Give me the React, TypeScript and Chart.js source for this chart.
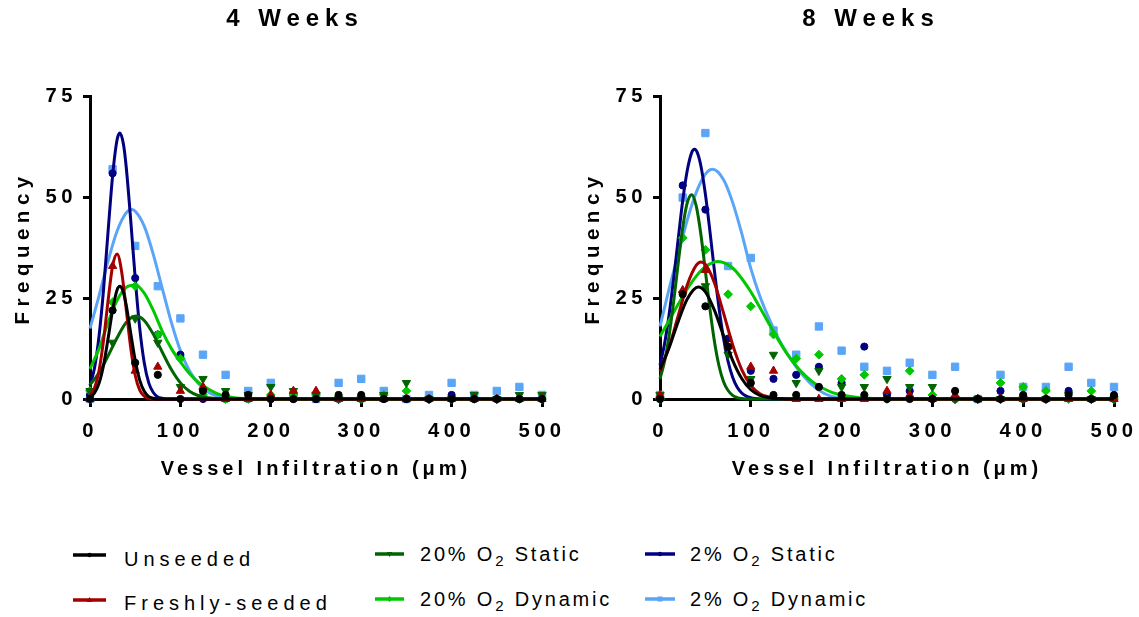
import React, { useEffect, useRef } from 'react';
import { Chart, registerables } from 'chart.js';

Chart.register(...registerables);

const FONT = "'Liberation Sans', Arial, Helvetica, sans-serif";

// ---------- axes ----------
const X_TICKS = [0, 100, 200, 300, 400, 500];
const Y_TICKS = [0, 25, 50, 75];
const BIN_X = [0, 25, 50, 75, 100, 125, 150, 175, 200, 225, 250, 275, 300, 325, 350, 375, 400, 425, 450, 475, 500];

// ---------- 4 weeks: observed frequencies ----------
const L_UNS = [0, 22, 9, 6, 0, 2, 1, 1, 0, 0, 0, 1, 1, 0, 0, 0, 0, 0, 0, 0, 0];
const L_FRESH = [0, 33, 7, 8, 2, 3, 0, 0, 1, 2, 2, 0, 0, 0, 0, 0, 0, 0, 0, 0, 0];
const L_S20 = [2, 14, 20, 14, 3, 5, 2, 1, 3, 2, 1, 0, 0, 1, 4, 0, 0, 1, 0, 1, 1];
const L_D20 = [2, 24, 28, 16, 10, 1, 0, 0, 1, 1, 1, 0, 0, 1, 2, 0, 0, 0, 0, 0, 0];
const L_S2 = [1, 56, 30, 16, 11, 0, 0, 0, 0, 0, 0, 0, 0, 0, 0, 0, 1, 0, 0, 0, 0];
const L_D2 = [0, 57, 38, 28, 20, 11, 6, 2, 4, 1, 0, 4, 5, 2, 0, 1, 4, 1, 2, 3, 1];

// ---------- 4 weeks: fitted curves ----------
const L_UNS_FX = [0, 5, 10, 15, 20, 25, 30, 33, 36, 40, 45, 50, 55, 60, 65, 70, 75, 500];
const L_UNS_FY = [0.5, 1.5, 3.9, 8.4, 15.0, 22.1, 27.1, 28, 27.1, 23.4, 16.4, 9.6, 4.7, 1.9, 0.6, 0.2, 0, 0];
const L_FRESH_FX = [0, 5, 10, 15, 20, 25, 30, 35, 40, 45, 50, 55, 60, 65, 70, 500];
const L_FRESH_FY = [0.9, 2.7, 7.0, 14.6, 24.4, 33.0, 36.0, 31.6, 22.4, 12.8, 5.9, 2.2, 0.7, 0.2, 0, 0];
const L_S20_FX = [0, 10, 20, 30, 40, 51, 60, 70, 80, 90, 100, 110, 120, 130, 140, 150, 500];
const L_S20_FY = [3.5, 6.5, 10.7, 15.2, 19.0, 20.6, 19.5, 16.1, 11.6, 7.3, 4.0, 1.9, 0.8, 0.3, 0.1, 0, 0];
const L_D20_FX = [0, 10, 20, 30, 40, 50, 60, 70, 80, 90, 100, 110, 120, 130, 140, 150, 160, 170, 180, 500];
const L_D20_FY = [7.5, 12.5, 19, 24.5, 27.7, 28.3, 26.3, 22, 16.8, 12.5, 9.2, 6.3, 4.1, 2.6, 1.4, 0.7, 0.3, 0.1, 0, 0];
const L_S2_FX = [0, 5, 10, 15, 20, 25, 30, 33, 37, 40, 45, 50, 55, 60, 65, 70, 75, 80, 85, 500];
const L_S2_FY = [3.4, 7.7, 15.6, 27.2, 41.6, 55.4, 64.4, 66, 63.2, 57.7, 44.5, 30.0, 17.6, 9.0, 4.0, 1.6, 0.5, 0.2, 0, 0];
const L_D2_FX = [0, 10, 20, 30, 40, 46, 50, 60, 70, 80, 90, 100, 110, 120, 130, 140, 150, 160, 170, 500];
const L_D2_FY = [17.5, 25.6, 34.3, 41.7, 46.2, 47, 46.6, 42.9, 35.9, 27.4, 19.0, 12.0, 7.0, 3.8, 1.8, 0.8, 0.3, 0.1, 0, 0];

// ---------- 8 weeks: observed frequencies ----------
const R_UNS = [0, 26, 23, 13, 4, 1, 1, 3, 1, 1, 0, 0, 0, 2, 0, 0, 1, 0, 1, 0, 1];
const R_FRESH = [1, 27, 32, 13, 8, 7, 0, 0, 0, 0, 2, 1, 0, 1, 0, 0, 0, 0, 0, 0, 0];
const R_S20 = [1, 26, 28, 11, 5, 11, 4, 7, 3, 3, 5, 3, 3, 0, 0, 0, 0, 0, 1, 0, 0];
const R_D20 = [0, 40, 37, 26, 23, 16, 10, 11, 5, 6, 0, 7, 1, 0, 0, 4, 3, 2, 0, 2, 0];
const R_S2 = [0, 53, 47, 15, 7, 5, 6, 8, 4, 13, 1, 2, 0, 0, 0, 2, 0, 0, 2, 0, 0];
const R_D2 = [1, 50, 66, 33, 35, 17, 11, 18, 12, 8, 7, 9, 6, 8, 0, 6, 3, 3, 8, 4, 3];

// ---------- 8 weeks: fitted curves ----------
const R_UNS_FX = [0, 10, 20, 30, 42, 50, 60, 70, 80, 90, 100, 110, 120, 130, 140, 500];
const R_UNS_FY = [7.3, 12.7, 19.2, 24.8, 27.8, 26.6, 22.0, 15.7, 9.6, 5.1, 2.3, 0.9, 0.3, 0.1, 0, 0];
const R_FRESH_FX = [0, 10, 20, 30, 40, 45, 50, 60, 70, 80, 90, 100, 110, 120, 130, 140, 500];
const R_FRESH_FY = [6.9, 12.9, 20.6, 28.3, 33.2, 34, 33.4, 28.8, 21.3, 13.5, 7.3, 3.4, 1.3, 0.5, 0.1, 0, 0];
const R_S20_FX = [0, 5, 10, 15, 20, 25, 30, 35, 40, 45, 50, 55, 60, 65, 70, 75, 80, 85, 90, 95, 500];
const R_S20_FY = [5.0, 9.3, 15.7, 24.1, 33.6, 42.5, 48.7, 50.7, 47.8, 40.9, 31.7, 22.3, 14.2, 8.2, 4.3, 2.1, 0.9, 0.35, 0.1, 0, 0];
const R_D20_FX = [0, 10, 20, 30, 40, 50, 64, 80, 90, 100, 110, 120, 130, 140, 150, 160, 170, 180, 190, 200, 210, 220, 230, 240, 250, 500];
const R_D20_FY = [15.5, 19.5, 23.5, 27.3, 30.5, 32.8, 34.1, 32.5, 29.9, 26.6, 22.7, 18.7, 14.8, 11.2, 8.2, 5.8, 3.9, 2.6, 1.6, 1.0, 0.6, 0.3, 0.2, 0.1, 0, 0];
const R_S2_FX = [0, 5, 10, 15, 20, 25, 30, 35, 38, 41, 45, 50, 55, 60, 65, 70, 75, 80, 85, 90, 95, 100, 105, 110, 500];
const R_S2_FY = [8.4, 13.7, 20.9, 29.8, 39.6, 49.2, 56.7, 61.2, 62, 61.2, 57.9, 50.8, 41.6, 31.7, 22.6, 15.0, 9.3, 5.4, 2.9, 1.5, 0.7, 0.3, 0.1, 0, 0];
const R_D2_FX = [0, 10, 20, 30, 40, 50, 58, 70, 80, 90, 100, 110, 120, 130, 140, 150, 160, 170, 180, 190, 200, 210, 500];
const R_D2_FY = [18, 27.3, 35.9, 44.4, 51.3, 55.8, 57, 54.4, 48.8, 41.1, 32.4, 25.5, 20, 15.2, 11.3, 8, 5.2, 3, 1.5, 0.6, 0.2, 0, 0];

// ---------- series appearance ----------
type Series = { label: string[]; color: string; shape: string; r: number; rot: number };
const SERIES: Series[] = [
  { label: ['Unseeded'], color: '#000000', shape: 'circle', r: 3.6, rot: 0 },
  { label: ['Freshly-seeded'], color: '#A40000', shape: 'triangle', r: 4.8, rot: 0 },
  { label: ['20% O', '2', ' Static'], color: '#006400', shape: 'triangle', r: 4.8, rot: 180 },
  { label: ['20% O', '2', ' Dynamic'], color: '#00C800', shape: 'rectRot', r: 4.4, rot: 0 },
  { label: ['2% O', '2', ' Static'], color: '#000080', shape: 'circle', r: 3.6, rot: 0 },
  { label: ['2% O', '2', ' Dynamic'], color: '#5AA5F7', shape: 'rect', r: 5.2, rot: 0 },
];

const LEFT_PANEL = {
  title: '4 Weeks',
  points: [L_UNS, L_FRESH, L_S20, L_D20, L_S2, L_D2],
  fitX: [L_UNS_FX, L_FRESH_FX, L_S20_FX, L_D20_FX, L_S2_FX, L_D2_FX],
  fitY: [L_UNS_FY, L_FRESH_FY, L_S20_FY, L_D20_FY, L_S2_FY, L_D2_FY],
};
const RIGHT_PANEL = {
  title: '8 Weeks',
  points: [R_UNS, R_FRESH, R_S20, R_D20, R_S2, R_D2],
  fitX: [R_UNS_FX, R_FRESH_FX, R_S20_FX, R_D20_FX, R_S2_FX, R_D2_FX],
  fitY: [R_UNS_FY, R_FRESH_FY, R_S20_FY, R_D20_FY, R_S2_FY, R_D2_FY],
};

// letter spacing per canvas font size (Prism-like tracked text)
const SPACING: Record<string, number> = { '24px': 6, '20px': 4, '20.5px': 5.5, '20.2px': 4.5 };

const spacingPlugin = {
  id: 'trackedText',
  beforeInit(chart: any) {
    const ctx: any = chart.ctx;
    if (ctx.__tracked) return;
    ctx.__tracked = true;
    const ft = ctx.fillText.bind(ctx);
    const mt = ctx.measureText.bind(ctx);
    const apply = () => {
      const m = /([\d.]+)px/.exec(ctx.font || '');
      const sp = m ? SPACING[m[1] + 'px'] : undefined;
      try { ctx.letterSpacing = (sp || 0) + 'px'; } catch (e) { /* ignore */ }
    };
    ctx.fillText = (t: string, x: number, y: number, w?: number) => {
      apply();
      if (w === undefined) ft(t, x, y); else ft(t, x, y, w);
    };
    ctx.measureText = (t: string) => { apply(); return mt(t); };
  },
};

const toXY = (xs: number[], ys: number[]) => xs.map((x, i) => ({ x, y: ys[i] }));

function buildConfig(panel: typeof LEFT_PANEL, rightSpace: number): any {
  const datasets: any[] = [];
  SERIES.forEach((s, i) => {
    datasets.push({
      label: s.label.join('') + ' data',
      data: toXY(BIN_X, panel.points[i]),
      showLine: false,
      pointStyle: s.shape,
      pointRadius: s.r,
      pointRotation: s.rot,
      pointBackgroundColor: s.color,
      pointBorderColor: s.color,
      pointBorderWidth: 1,
      clip: false,
    });
    datasets.push({
      label: s.label.join('') + ' fit',
      data: toXY(panel.fitX[i], panel.fitY[i]),
      showLine: true,
      borderColor: s.color,
      borderWidth: 3,
      pointRadius: 0,
      fill: false,
      cubicInterpolationMode: 'monotone',
      clip: false,
    });
  });
  const tickFont = { family: FONT, size: 20.2, weight: 'bold' as const };
  const gridOpts = (len: number) => ({
    display: true,
    drawOnChartArea: false,
    drawTicks: true,
    tickLength: len,
    tickWidth: 3,
    tickColor: '#000',
    color: '#000',
  });
  return {
    type: 'scatter',
    data: { datasets },
    plugins: [spacingPlugin],
    options: {
      animation: false,
      responsive: false,
      maintainAspectRatio: false,
      devicePixelRatio: 1,
      events: [],
      layout: { padding: { left: 0, top: 0, right: 0, bottom: 5 } },
      plugins: {
        legend: { display: false },
        tooltip: { enabled: false },
        title: {
          display: true,
          text: panel.title,
          color: '#000',
          font: { family: FONT, size: 24, weight: 'bold' },
          padding: { top: 5, bottom: 63 },
        },
      },
      scales: {
        x: {
          type: 'linear',
          min: 0,
          max: 500,
          afterBuildTicks: (s: any) => { s.ticks = X_TICKS.map((v) => ({ value: v })); },
          ticks: { color: '#000', font: tickFont, padding: 12, maxRotation: 0, autoSkip: false },
          grid: gridOpts(8),
          border: { display: true, color: '#000', width: 3 },
          title: {
            display: true,
            text: 'Vessel Infiltration (μm)',
            color: '#000',
            font: { family: FONT, size: 20, weight: 'bold' },
            padding: { top: 0, bottom: 4 },
          },
          afterFit: (s: any) => { s.height = 86; s.paddingLeft = 0; s.paddingRight = 0; },
        },
        y: {
          type: 'linear',
          position: 'left',
          min: 0,
          max: 75,
          afterBuildTicks: (s: any) => { s.ticks = Y_TICKS.map((v) => ({ value: v })); },
          ticks: { color: '#000', font: tickFont, padding: 6 },
          grid: gridOpts(7),
          border: { display: true, color: '#000', width: 3 },
          title: {
            display: true,
            text: 'Frequency',
            color: '#000',
            font: { family: FONT, size: 20.5, weight: 'bold' },
            padding: { top: 11, bottom: 0 },
          },
          afterFit: (s: any) => { s.width = 90; s.paddingTop = 0; s.paddingBottom = 0; },
        },
        // empty spacer on the right so the panel title is centred like the original
        spacer: {
          type: 'linear',
          position: 'right',
          min: 0,
          max: 75,
          display: true,
          ticks: { display: false },
          grid: { display: false, drawTicks: false },
          border: { display: false },
          title: { display: false },
          afterFit: (s: any) => { s.width = rightSpace; s.paddingTop = 0; s.paddingBottom = 0; },
        },
      },
    },
  };
}

function ChartPanel({ left, width, panel, rightSpace }: { left: number; width: number; panel: typeof LEFT_PANEL; rightSpace: number }) {
  const ref = useRef<HTMLCanvasElement>(null);
  useEffect(() => {
    if (!ref.current) return;
    const chart = new Chart(ref.current, buildConfig(panel, rightSpace));
    return () => chart.destroy();
  }, []);
  return (
    <canvas
      ref={ref}
      width={width}
      height={490}
      style={{ position: 'absolute', left, top: 0, width, height: 490, display: 'block' }}
    />
  );
}

// legend placement (page pixels)
const LEGEND_LAYOUT = [
  { lineX: 73, lineW: 33, lineY: 555, textX: 124, textY: 559, spacing: 5 },
  { lineX: 73, lineW: 33, lineY: 600, textX: 124, textY: 603, spacing: 5 },
  { lineX: 375, lineW: 29, lineY: 553.5, textX: 420, textY: 554, spacing: 2.8 },
  { lineX: 375, lineW: 29, lineY: 598.5, textX: 420, textY: 599, spacing: 2.8 },
  { lineX: 645, lineW: 30, lineY: 553.5, textX: 690, textY: 554, spacing: 2.8 },
  { lineX: 645, lineW: 30, lineY: 598.5, textX: 690, textY: 599, spacing: 2.8 },
];

function Marker({ shape, rot, color, cx, cy }: { shape: string; rot: number; color: string; cx: number; cy: number }) {
  if (shape === 'circle') return <circle cx={cx} cy={cy} r={2.2} fill={color} />;
  if (shape === 'rect') return <rect x={cx - 2.5} y={cy - 2.5} width={5} height={5} fill={color} />;
  if (shape === 'rectRot')
    return <polygon points={`${cx},${cy - 3} ${cx + 3},${cy} ${cx},${cy + 3} ${cx - 3},${cy}`} fill={color} />;
  const d = rot === 180 ? -1 : 1;
  return <polygon points={`${cx - 3},${cy + 2 * d} ${cx + 3},${cy + 2 * d} ${cx},${cy - 3 * d}`} fill={color} />;
}

function Legend() {
  return (
    <>
      {SERIES.map((s, i) => {
        const L = LEGEND_LAYOUT[i];
        return (
          <React.Fragment key={i}>
            <svg
              width={L.lineW}
              height={10}
              style={{ position: 'absolute', left: L.lineX, top: L.lineY - 5, overflow: 'visible' }}
            >
              <line x1={0} y1={5} x2={L.lineW} y2={5} stroke={s.color} strokeWidth={3.5} />
              <Marker shape={s.shape} rot={s.rot} color={s.color} cx={L.lineW / 2} cy={5} />
            </svg>
            <div
              style={{
                position: 'absolute',
                left: L.textX,
                top: L.textY - 10,
                fontFamily: FONT,
                fontSize: 20,
                lineHeight: '20px',
                letterSpacing: L.spacing,
                color: '#000',
                whiteSpace: 'nowrap',
              }}
            >
              {s.label[0]}
              {s.label.length > 1 && (
                <span style={{ fontSize: 15, position: 'relative', top: 5 }}>{s.label[1]}</span>
              )}
              {s.label.length > 2 && s.label[2]}
            </div>
          </React.Fragment>
        );
      })}
    </>
  );
}

export default function App() {
  return (
    <div
      style={{
        position: 'absolute',
        left: 0,
        top: 0,
        width: 1139,
        height: 617,
        overflow: 'hidden',
        background: '#fff',
      }}
    >
      <ChartPanel left={0} width={590} panel={LEFT_PANEL} rightSpace={48} />
      <ChartPanel left={570} width={602} panel={RIGHT_PANEL} rightSpace={58} />
      <Legend />
    </div>
  );
}
